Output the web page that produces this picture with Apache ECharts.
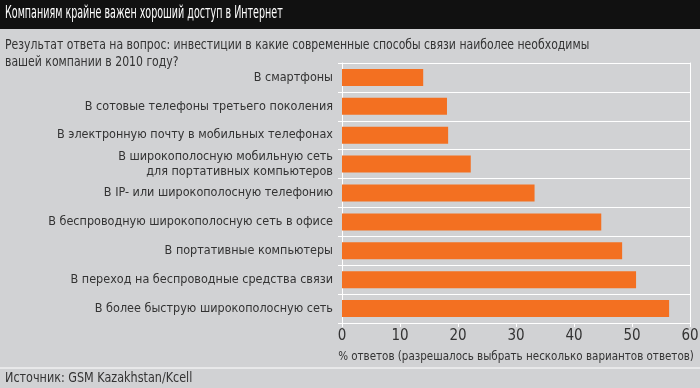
<!DOCTYPE html>
<html><head><meta charset="utf-8">
<script src="https://cdn.jsdelivr.net/npm/echarts@6/dist/echarts.min.js"></script>
<style>html,body{margin:0;padding:0;background:#d1d2d4;}#c{width:700px;height:388px;}</style>
</head><body><div id="c"></div>
<script>
const categories = [
  'В смартфоны',
  'В сотовые телефоны третьего поколения',
  'В электронную почту в мобильных телефонах',
  'В широкополосную мобильную сеть\nдля портативных компьютеров',
  'В IP- или широкополосную телефонию',
  'В беспроводную широкополосную сеть в офисе',
  'В портативные компьютеры',
  'В переход на беспроводные средства связи',
  'В более быструю широкополосную сеть'
];
const values = [14, 18.1, 18.3, 22.2, 33.2, 44.7, 48.3, 50.7, 56.4];
const titleText = 'Компаниям крайне важен хороший доступ в Интернет';
const subtitleText = 'Результат ответа на вопрос: инвестиции в какие современные способы связи наиболее необходимы\nвашей компании в 2010 году?';
const axisName = '% ответов (разрешалось выбрать несколько вариантов ответов)';
const sourceText = 'Источник: GSM Kazakhstan/Kcell';

const FONT = '"DejaVu Sans Condensed","Liberation Sans Narrow","Roboto",sans-serif';
const chart = echarts.init(document.getElementById('c'), null, {renderer:'canvas'});
chart.setOption({
  backgroundColor: '#d1d2d4',
  animation: false,
  graphic: [
    {type:'rect', shape:{x:0,y:0,width:700,height:29}, style:{fill:'#111111'}, z:-1},
    {type:'line', shape:{x1:0,y1:368,x2:700,y2:368}, style:{stroke:'#ffffff',lineWidth:1}},
    {type:'text', x:5, y:4, scaleX:0.59, style:{text:titleText, fill:'#ffffff', font:'18px '+FONT}},
    {type:'text', x:5, y:37, scaleX:0.865, style:{text:subtitleText, fill:'#333333', font:'14px '+FONT, lineHeight:17}},
    {type:'text', x:5, y:371, scaleX:0.89, style:{text:sourceText, fill:'#333333', font:'14px '+FONT}}
  ],
  grid: {left:342, right:10, top:63, bottom:65, outerBoundsMode:'none', containLabel:false},
  xAxis: {
    type:'value', min:0, max:60, interval:10,
    name: axisName, nameLocation:'middle', nameGap:28,
    nameTextStyle:{color:'#333', fontSize:11.5, fontFamily:FONT},
    axisLine:{show:true, lineStyle:{color:'#ffffff', width:1}},
    axisTick:{show:true, length:4, lineStyle:{color:'#ffffff'}},
    axisLabel:{color:'#333', fontSize:15, fontFamily:FONT, margin:6},
    splitLine:{show:false}
  },
  yAxis: [{
    type:'category', data:categories, inverse:true,
    axisLine:{show:true, lineStyle:{color:'#ffffff'}},
    axisTick:{show:true, length:4, lineStyle:{color:'#ffffff'}},
    axisLabel:{color:'#333', fontSize:12.5, fontFamily:FONT, margin:9, lineHeight:15, align:'right'},
    splitLine:{show:true, lineStyle:{color:'#ffffff', width:1}}
  },{
    type:'category', data:categories, inverse:true, position:'right',
    axisLine:{show:true, lineStyle:{color:'#ffffff'}},
    axisTick:{show:false}, axisLabel:{show:false}, splitLine:{show:false}
  }],
  series: [{
    type:'bar', data:values, barWidth:17,
    itemStyle:{color:'#f37021'}
  }]
});
</script></body></html>
